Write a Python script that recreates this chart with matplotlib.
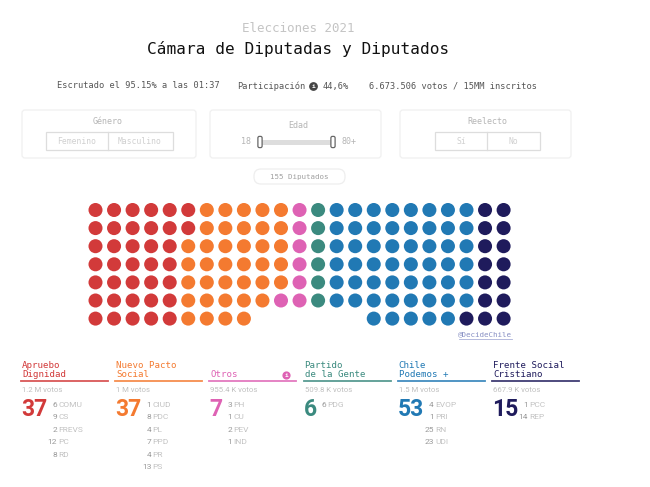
import matplotlib.pyplot as plt
from matplotlib.patches import FancyBboxPatch, Rectangle
import numpy as np

# party blocs, left to right
blocs = ['Apruebo\nDignidad', 'Nuevo Pacto\nSocial', 'Otros', 'Partido\nde la Gente',
         'Chile\nPodemos +', 'Frente Social\nCristiano']
seats = [37, 37, 7, 6, 53, 15]
votes = ['1.2 M votos', '1 M votos', '955.4 K votos', '509.8 K votos', '1.5 M votos', '667.9 K votos']
colors = ['#d23a3a', '#f47a30', '#de62b4', '#3b8a7f', '#2179b4', '#1f1b5c']

# parties inside each bloc
parties = [
    [(6, 'COMU'), (9, 'CS'), (2, 'FREVS'), (12, 'PC'), (8, 'RD')],
    [(1, 'CIUD'), (8, 'PDC'), (4, 'PL'), (7, 'PPD'), (4, 'PR'), (13, 'PS')],
    [(3, 'PH'), (1, 'CU'), (2, 'PEV'), (1, 'IND')],
    [(6, 'PDG')],
    [(4, 'EVOP'), (1, 'PRI'), (25, 'RN'), (23, 'UDI')],
    [(1, 'PCC'), (14, 'REP')],
]

# seats per column of the waffle (middle columns are one row shorter)
col_heights = [7] * 9 + [6] * 6 + [7] * 8

mono = 'DejaVu Sans Mono'
sans = 'Roboto'

fig = plt.figure(figsize=(6.5, 4.87), dpi=100)
ax = fig.add_axes([0, 0, 1, 1])
ax.set_xlim(0, 650)
ax.set_ylim(487, 0)
ax.axis('off')

# header
ax.text(298, 29, 'Elecciones 2021', family=mono, fontsize=9, color='#c4c4c4', ha='center', va='center')
ax.text(298, 49, 'Cámara de Diputadas y Diputados', family=mono, fontsize=11.6, color='#111111',
        ha='center', va='center')
ax.text(57, 86, 'Escrutado el 95.15% a las 01:37', family=mono, fontsize=6.2, color='#555555', va='center')
ax.text(237, 86, 'Participación', family=mono, fontsize=6.2, color='#555555', va='center')
ax.scatter([313], [86], s=28, color='#444444', zorder=3)
ax.text(313, 86.3, 'i', family=mono, fontsize=4.5, color='white', ha='center', va='center',
        fontweight='bold', zorder=4)
ax.text(323, 86, '44,6%', family=mono, fontsize=6.2, color='#555555', va='center')
ax.text(369, 86, '6.673.506 votos / 15MM inscritos', family=mono, fontsize=6.2, color='#555555', va='center')

# filter panels
for x0, x1 in [(22, 196), (210, 381), (400, 571)]:
    ax.add_patch(FancyBboxPatch((x0, 110), x1 - x0, 48, boxstyle='round,pad=0,rounding_size=3',
                                fill=False, edgecolor='#f0f0f0', linewidth=0.9))
ax.text(108, 122, 'Género', family=mono, fontsize=6, color='#b5b5b5', ha='center', va='center')
ax.add_patch(Rectangle((46, 132), 127, 18, fill=False, edgecolor='#dddddd', linewidth=0.9))
ax.plot([108, 108], [132, 150], color='#dddddd', linewidth=0.9)
ax.text(77, 141, 'Femenino', family=mono, fontsize=5.8, color='#d0d0d0', ha='center', va='center')
ax.text(140, 141, 'Masculino', family=mono, fontsize=5.8, color='#d0d0d0', ha='center', va='center')

ax.text(298, 125, 'Edad', family=mono, fontsize=6, color='#b5b5b5', ha='center', va='center')
ax.text(246, 142, '18', family=mono, fontsize=6, color='#b5b5b5', ha='center', va='center')
ax.text(342, 142, '80+', family=mono, fontsize=6, color='#b5b5b5', ha='left', va='center')
ax.add_patch(Rectangle((262, 140), 71, 4.5, color='#dddddd', linewidth=0))
for hx in [260, 333]:
    ax.add_patch(FancyBboxPatch((hx - 1.5, 137), 3, 10, boxstyle='round,pad=0.6,rounding_size=1.5',
                                facecolor='white', edgecolor='#666666', linewidth=0.9, zorder=3))

ax.text(487, 122, 'Reelecto', family=mono, fontsize=6, color='#b5b5b5', ha='center', va='center')
ax.add_patch(Rectangle((435, 132), 105, 18, fill=False, edgecolor='#dddddd', linewidth=0.9))
ax.plot([487, 487], [132, 150], color='#dddddd', linewidth=0.9)
ax.text(461, 141, 'Sí', family=mono, fontsize=5.8, color='#d0d0d0', ha='center', va='center')
ax.text(513, 141, 'No', family=mono, fontsize=5.8, color='#d0d0d0', ha='center', va='center')

ax.add_patch(FancyBboxPatch((254, 169), 91, 15, boxstyle='round,pad=0,rounding_size=7',
                            fill=False, edgecolor='#eeeeee', linewidth=0.9))
ax.text(299, 176.5, '%d Diputados' % sum(seats), family=mono, fontsize=5.4, color='#a0a0a0',
        ha='center', va='center')

# waffle of seats, filled column by column, top to bottom
seat_colors = []
for n, c in zip(seats, colors):
    seat_colors += [c] * n
cols, rows = [], []
for ci, h in enumerate(col_heights):
    for ri in range(h):
        cols.append(ci)
        rows.append(ri)
cols = np.array(cols[:len(seat_colors)])
rows = np.array(rows[:len(seat_colors)])
ax.scatter(95.5 + cols * 18.55, 210 + rows * 18.1, s=102, c=seat_colors, linewidths=0)

ax.text(512, 334, '@DecideChile', family=mono, fontsize=5.4, color='#8890c4', ha='right', va='center')
ax.plot([459, 512], [338.5, 338.5], color='#aab0d8', linewidth=0.6)

# legend per bloc
for i, (name, n, v, c, plist) in enumerate(zip(blocs, seats, votes, colors, parties)):
    x = 22 + i * 94.2
    ax.text(x, 379, name, family=mono, fontsize=6.6, color=c, ha='left', va='bottom', linespacing=0.95)
    ax.plot([x - 1, x + 86], [381, 381], color=c, linewidth=1.3, alpha=0.85)
    ax.text(x, 390.5, v, family=sans, fontsize=5.6, color='#c0c0c0', ha='left', va='center')
    ax.text(x - 1, 410, str(n), family=sans, fontsize=16.5, fontweight='bold', color=c,
            ha='left', va='center')
    xr = x + 8 + 13.5 * len(str(n))
    for k, (pn, pname) in enumerate(plist):
        y = 405 + k * 12.4
        ax.text(xr, y, str(pn), family=sans, fontsize=6, color='#9a9a9a', ha='right', va='center')
        ax.text(xr + 1.5, y, pname, family=sans, fontsize=6, color='#c2c2c2', ha='left', va='center')

# info icon next to Otros
ax.scatter([286], [375], s=24, color=colors[2], zorder=3)
ax.text(286, 375.3, 'i', family=mono, fontsize=4.3, color='white', ha='center', va='center',
        fontweight='bold', zorder=4)

fig.savefig('out.png', dpi=100, facecolor='white')
